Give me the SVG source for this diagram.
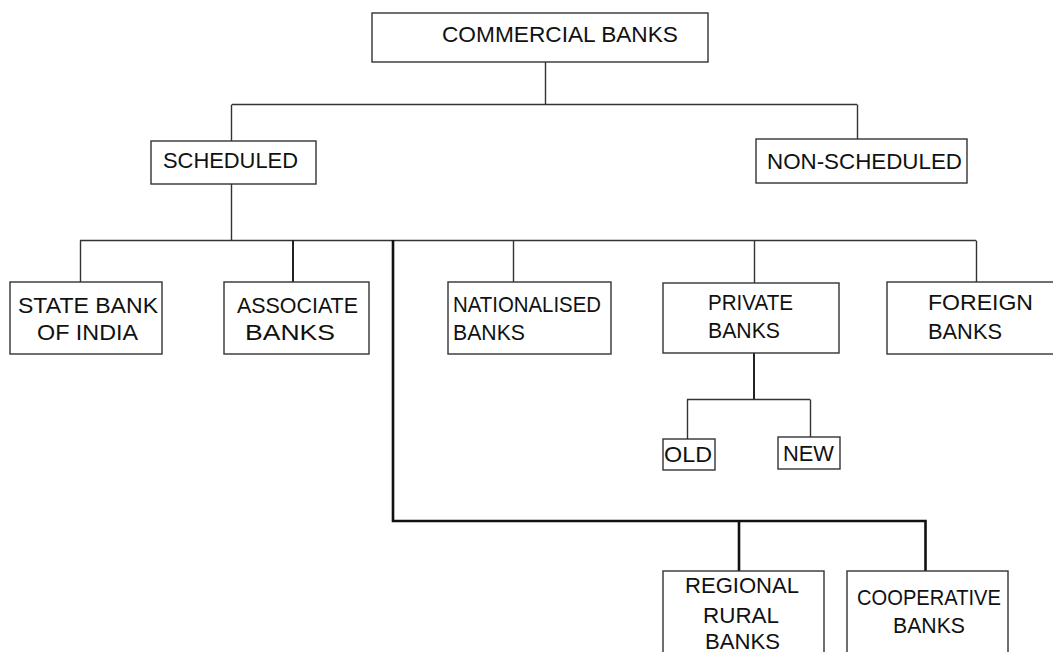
<svg xmlns="http://www.w3.org/2000/svg" width="1053" height="652" viewBox="0 0 1053 652">
<style>
.box{fill:#fff;stroke:#333;stroke-width:1.4}
.t{font-family:"Liberation Sans",Arial,sans-serif;font-size:22px;fill:#111}
.ln{fill:none;stroke:#333;stroke-width:1.4}
.th{fill:none;stroke:#111;stroke-width:2.6}
.md{fill:none;stroke:#222;stroke-width:2}
</style>
<rect width="1053" height="652" fill="#fff"/>
<g id="connectors">
<path class="ln" d="M545.5 62 V104.5 M232 104.5 H857 M231.5 104.5 V141 M857.5 104.5 V139"/>
<path class="ln" d="M231.5 184 V240.5 M80 240.5 H976 M80.5 240.5 V282 M513.5 240.5 V282 M754.5 240.5 V283 M976.5 240.5 V282"/>
<path class="md" d="M293 240 V282"/>
<path class="th" d="M393 240 V521 H925.5 V571 M739 521 V571"/>
<path class="md" d="M754 353 V399"/>
<path class="ln" d="M687 399.5 H810 M687.5 399.5 V439 M810.5 399.5 V437"/>
</g>
<g id="n-commercial"><rect class="box" x="372" y="13" width="336" height="49"/><text class="t" x="442" y="42" textLength="236" lengthAdjust="spacingAndGlyphs">COMMERCIAL BANKS</text></g>
<g id="n-scheduled"><rect class="box" x="151" y="141" width="165" height="43"/><text class="t" x="163" y="168" textLength="135" lengthAdjust="spacingAndGlyphs">SCHEDULED</text></g>
<g id="n-nonscheduled"><rect class="box" x="756" y="139" width="211" height="44"/><text class="t" x="767" y="169" textLength="195" lengthAdjust="spacingAndGlyphs">NON-SCHEDULED</text></g>
<g id="n-sbi"><rect class="box" x="10" y="282" width="152" height="72"/><text class="t" x="18" y="313" textLength="140" lengthAdjust="spacingAndGlyphs">STATE BANK</text><text class="t" x="37" y="340" textLength="101" lengthAdjust="spacingAndGlyphs">OF INDIA</text></g>
<g id="n-associate"><rect class="box" x="224" y="282" width="145" height="72"/><text class="t" x="237" y="313" textLength="121" lengthAdjust="spacingAndGlyphs">ASSOCIATE</text><text class="t" x="245" y="340" textLength="90" lengthAdjust="spacingAndGlyphs">BANKS</text></g>
<g id="n-nationalised"><rect class="box" x="448" y="282" width="163" height="72"/><text class="t" x="453" y="312" textLength="148" lengthAdjust="spacingAndGlyphs">NATIONALISED</text><text class="t" x="453" y="340" textLength="72" lengthAdjust="spacingAndGlyphs">BANKS</text></g>
<g id="n-private"><rect class="box" x="663" y="283" width="176" height="70"/><text class="t" x="708" y="310" textLength="85" lengthAdjust="spacingAndGlyphs">PRIVATE</text><text class="t" x="708" y="338" textLength="72" lengthAdjust="spacingAndGlyphs">BANKS</text></g>
<g id="n-foreign"><rect class="box" x="887" y="282" width="170" height="72"/><text class="t" x="928" y="310" textLength="105" lengthAdjust="spacingAndGlyphs">FOREIGN</text><text class="t" x="928" y="339" textLength="74" lengthAdjust="spacingAndGlyphs">BANKS</text></g>
<g id="n-old"><rect class="box" x="663" y="439" width="52" height="31"/><text class="t" x="664" y="462" textLength="48" lengthAdjust="spacingAndGlyphs">OLD</text></g>
<g id="n-new"><rect class="box" x="778" y="437" width="62" height="32"/><text class="t" x="783" y="461" textLength="51" lengthAdjust="spacingAndGlyphs">NEW</text></g>
<g id="n-rrb"><rect class="box" x="663" y="571" width="161" height="90"/><text class="t" x="685" y="593" textLength="114" lengthAdjust="spacingAndGlyphs">REGIONAL</text><text class="t" x="703" y="623" textLength="76" lengthAdjust="spacingAndGlyphs">RURAL</text><text class="t" x="705" y="649" textLength="75" lengthAdjust="spacingAndGlyphs">BANKS</text></g>
<g id="n-coop"><rect class="box" x="847" y="571" width="161" height="90"/><text class="t" x="857" y="605" textLength="144" lengthAdjust="spacingAndGlyphs">COOPERATIVE</text><text class="t" x="893" y="633" textLength="72" lengthAdjust="spacingAndGlyphs">BANKS</text></g>
</svg>
